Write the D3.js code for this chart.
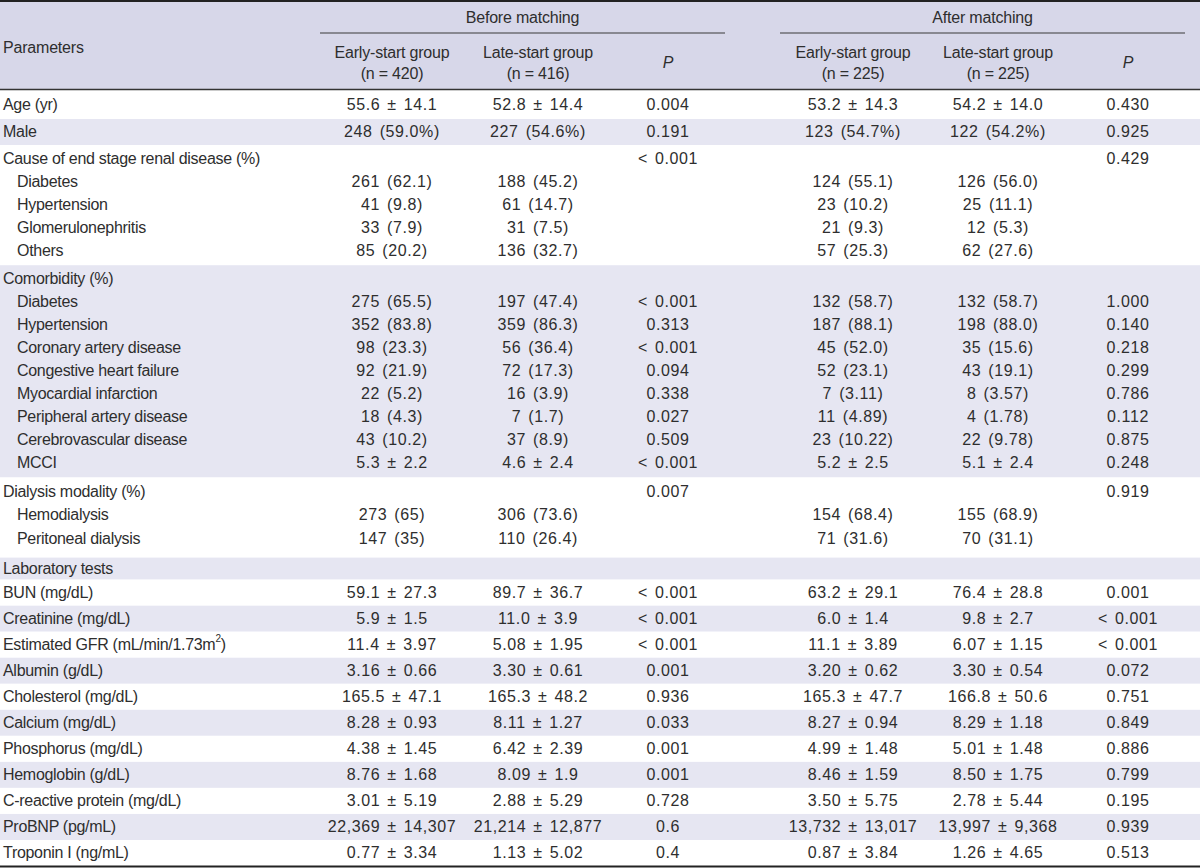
<!DOCTYPE html>
<html>
<head>
<meta charset="utf-8">
<script src="https://cdn.jsdelivr.net/npm/d3@7"></script>
<style>
  html, body { margin: 0; padding: 0; background: #ffffff; }
  svg { display: block; }
  text { font-family: "Liberation Sans", Arial, "Helvetica Neue", sans-serif; fill: #2e2e2e; }
</style>
</head>
<body>
<svg id="chart" width="1200" height="868"></svg>
<script>
// ---------------- DATA ----------------
const labels = [
  "Age (yr)", "Male", "Cause of end stage renal disease (%)", "Diabetes", "Hypertension",
  "Glomerulonephritis", "Others", "Comorbidity (%)", "Diabetes", "Hypertension",
  "Coronary artery disease", "Congestive heart failure", "Myocardial infarction",
  "Peripheral artery disease", "Cerebrovascular disease", "MCCI", "Dialysis modality (%)",
  "Hemodialysis", "Peritoneal dialysis", "Laboratory tests", "BUN (mg/dL)", "Creatinine (mg/dL)",
  "Estimated GFR (mL/min/1.73m²)", "Albumin (g/dL)", "Cholesterol (mg/dL)", "Calcium (mg/dL)",
  "Phosphorus (mg/dL)", "Hemoglobin (g/dL)", "C-reactive protein (mg/dL)", "ProBNP (pg/mL)",
  "Troponin I (ng/mL)"
];
// 1 = sub-item (indented)
const indent = [0,0,0,1,1,1,1,0,1,1,1,1,1,1,1,1,0,1,1,0,0,0,0,0,0,0,0,0,0,0,0];
// band (shading group) id for each row
const bandOf = [0,1,2,2,2,2,2,3,3,3,3,3,3,3,3,3,4,4,4,5,6,7,8,9,10,11,12,13,14,15,16];

const earlyBefore = ["55.6 ± 14.1","248 (59.0%)","","261 (62.1)","41 (9.8)","33 (7.9)","85 (20.2)","",
  "275 (65.5)","352 (83.8)","98 (23.3)","92 (21.9)","22 (5.2)","18 (4.3)","43 (10.2)","5.3 ± 2.2","",
  "273 (65)","147 (35)","","59.1 ± 27.3","5.9 ± 1.5","11.4 ± 3.97","3.16 ± 0.66","165.5 ± 47.1",
  "8.28 ± 0.93","4.38 ± 1.45","8.76 ± 1.68","3.01 ± 5.19","22,369 ± 14,307","0.77 ± 3.34"];
const lateBefore = ["52.8 ± 14.4","227 (54.6%)","","188 (45.2)","61 (14.7)","31 (7.5)","136 (32.7)","",
  "197 (47.4)","359 (86.3)","56 (36.4)","72 (17.3)","16 (3.9)","7 (1.7)","37 (8.9)","4.6 ± 2.4","",
  "306 (73.6)","110 (26.4)","","89.7 ± 36.7","11.0 ± 3.9","5.08 ± 1.95","3.30 ± 0.61","165.3 ± 48.2",
  "8.11 ± 1.27","6.42 ± 2.39","8.09 ± 1.9","2.88 ± 5.29","21,214 ± 12,877","1.13 ± 5.02"];
const pBefore = ["0.004","0.191","< 0.001","","","","","",
  "< 0.001","0.313","< 0.001","0.094","0.338","0.027","0.509","< 0.001","0.007",
  "","","","< 0.001","< 0.001","< 0.001","0.001","0.936",
  "0.033","0.001","0.001","0.728","0.6","0.4"];
const earlyAfter = ["53.2 ± 14.3","123 (54.7%)","","124 (55.1)","23 (10.2)","21 (9.3)","57 (25.3)","",
  "132 (58.7)","187 (88.1)","45 (52.0)","52 (23.1)","7 (3.11)","11 (4.89)","23 (10.22)","5.2 ± 2.5","",
  "154 (68.4)","71 (31.6)","","63.2 ± 29.1","6.0 ± 1.4","11.1 ± 3.89","3.20 ± 0.62","165.3 ± 47.7",
  "8.27 ± 0.94","4.99 ± 1.48","8.46 ± 1.59","3.50 ± 5.75","13,732 ± 13,017","0.87 ± 3.84"];
const lateAfter = ["54.2 ± 14.0","122 (54.2%)","","126 (56.0)","25 (11.1)","12 (5.3)","62 (27.6)","",
  "132 (58.7)","198 (88.0)","35 (15.6)","43 (19.1)","8 (3.57)","4 (1.78)","22 (9.78)","5.1 ± 2.4","",
  "155 (68.9)","70 (31.1)","","76.4 ± 28.8","9.8 ± 2.7","6.07 ± 1.15","3.30 ± 0.54","166.8 ± 50.6",
  "8.29 ± 1.18","5.01 ± 1.48","8.50 ± 1.75","2.78 ± 5.44","13,997 ± 9,368","1.26 ± 4.65"];
const pAfter = ["0.430","0.925","0.429","","","","","",
  "1.000","0.140","0.218","0.299","0.786","0.112","0.875","0.248","0.919",
  "","","","0.001","< 0.001","< 0.001","0.072","0.751",
  "0.849","0.886","0.799","0.195","0.939","0.513"];

const spanHeaders = ["Before matching", "After matching"];
const groupHeaders = ["Early-start group", "Late-start group", "P", "Early-start group", "Late-start group", "P"];
const groupNs = ["(n = 420)", "(n = 416)", "", "(n = 225)", "(n = 225)", ""];
const firstHeader = "Parameters";

// ---------------- LAYOUT ----------------
const W = 1200, H = 868;
const svg = d3.select("#chart");
const FS = 16;

const colKeys = ["eb", "lb", "pb", "ea", "la", "pa"];
const colData = [earlyBefore, lateBefore, pBefore, earlyAfter, lateAfter, pAfter];
const x = d3.scaleOrdinal().domain(colKeys).range([392, 538, 668, 853, 998, 1128]);
const spanX = d3.scaleOrdinal().domain([0, 1]).range([[320, 725], [780, 1185]]);

// band heights (layout), rows spread inside each band
const nBands = d3.max(bandOf) + 1;
const bandSize = d3.range(nBands).map(b => bandOf.filter(v => v === b).length);
const bandH = d3.range(nBands).map(b => {
  if (b === 0) return 29;
  if (b === 5) return 22;
  if (bandSize[b] > 1) return b === 4 ? 80 : bandSize[b] * 23 + 5;
  return 26;
});
const y = d3.scaleLinear().domain([0, d3.sum(bandH)]).range([90, 866]);
const bandTop = [], bandBot = [];
let acc = 0;
bandH.forEach((h, b) => { bandTop[b] = acc; acc += h; bandBot[b] = acc; });
const rowCenter = labels.map((_, i) => {
  const b = bandOf[i];
  const k = i - bandOf.indexOf(b);
  if (bandSize[b] === 1) return (bandTop[b] + bandBot[b]) / 2;
  const rh = b === 4 ? 23.5 : 23;
  return bandTop[b] + 2.5 + rh * (k + 0.5);
});

// ---- header background
svg.append("rect").attr("x", 0).attr("y", 0).attr("width", W).attr("height", 90).attr("fill", "#d7d7e9");

// ---- band shading
svg.append("g").selectAll("rect").data(d3.range(nBands)).join("rect")
  .attr("x", 0).attr("width", W)
  .attr("y", b => y(bandTop[b]))
  .attr("height", b => y(bandBot[b]) - y(bandTop[b]))
  .attr("fill", b => b % 2 === 1 ? "#e6e6f2" : "#ffffff");

// ---- header text
const hdr = svg.append("g").attr("font-size", FS).attr("letter-spacing", "-0.2px");
hdr.append("text").attr("x", 3).attr("y", 47).attr("dominant-baseline", "central").text(firstHeader);
hdr.selectAll("text.span").data(spanHeaders).join("text").attr("class", "span")
  .attr("x", (d, i) => (spanX(i)[0] + spanX(i)[1]) / 2).attr("y", 17)
  .attr("text-anchor", "middle").attr("dominant-baseline", "central").text(d => d);
hdr.selectAll("line.span").data(spanHeaders).join("line").attr("class", "span")
  .attr("x1", (d, i) => spanX(i)[0]).attr("x2", (d, i) => spanX(i)[1])
  .attr("y1", 33).attr("y2", 33).attr("stroke", "#3a3a3a").attr("stroke-width", 1.2);
colKeys.forEach((k, i) => {
  if (groupNs[i]) {
    hdr.append("text").attr("x", x(k)).attr("y", 52).attr("text-anchor", "middle")
      .attr("dominant-baseline", "central").text(groupHeaders[i]);
    hdr.append("text").attr("x", x(k)).attr("y", 73).attr("text-anchor", "middle")
      .attr("dominant-baseline", "central").text(groupNs[i]);
  } else {
    hdr.append("text").attr("x", x(k)).attr("y", 62).attr("text-anchor", "middle")
      .attr("dominant-baseline", "central").attr("font-style", "italic").text(groupHeaders[i]);
  }
});

// ---- body text
const body = svg.append("g").attr("font-size", FS);
const rowMid = i => y(rowCenter[i]) - 0.5;
const lab = body.append("g").attr("letter-spacing", "-0.3px")
  .selectAll("text").data(labels).join("text")
  .attr("x", (d, i) => indent[i] ? 17 : 3)
  .attr("y", (d, i) => rowMid(i))
  .attr("dominant-baseline", "central");
lab.each(function (d) {
  const t = d3.select(this);
  if (d.includes("²")) {
    const parts = d.split("²");
    t.append("tspan").text(parts[0]);
    t.append("tspan").attr("font-size", 10).attr("dy", -6).text("2");
    t.append("tspan").attr("dy", 6).text(parts[1]);
  } else t.text(d);
});
const vals = body.append("g").attr("letter-spacing", "0.6px").attr("word-spacing", "2px");
colKeys.forEach((k, ci) => {
  vals.append("g").selectAll("text").data(colData[ci].map((v, i) => ({ v, i })).filter(d => d.v !== ""))
    .join("text")
    .attr("x", x(k)).attr("y", d => rowMid(d.i))
    .attr("text-anchor", "middle").attr("dominant-baseline", "central")
    .text(d => d.v);
});

// ---- rules
svg.append("line").attr("x1", 0).attr("x2", W).attr("y1", 1).attr("y2", 1).attr("stroke", "#222").attr("stroke-width", 2);
svg.append("line").attr("x1", 0).attr("x2", W).attr("y1", 89.5).attr("y2", 89.5).attr("stroke", "#333").attr("stroke-width", 1.5);
svg.append("line").attr("x1", 0).attr("x2", W).attr("y1", 866.5).attr("y2", 866.5).attr("stroke", "#222").attr("stroke-width", 2);
</script>
</body>
</html>
